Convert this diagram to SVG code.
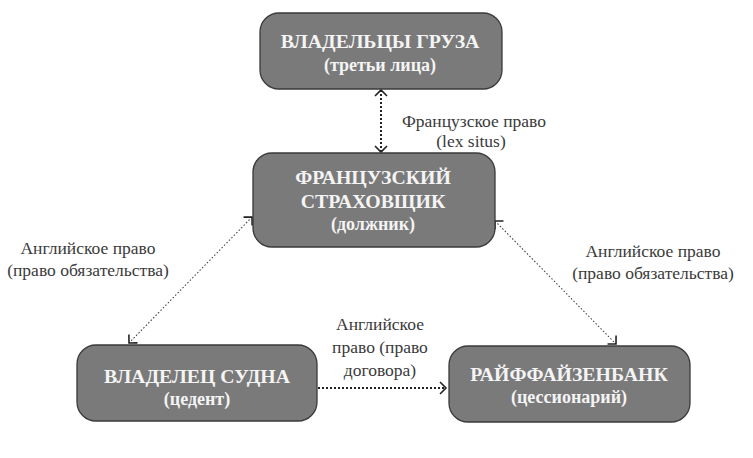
<svg xmlns="http://www.w3.org/2000/svg" width="753" height="458" viewBox="0 0 753 458">
<style>
.box{fill:#7a7a7a;stroke:#3a3a3a;stroke-width:1.3}
.t{font-family:"Liberation Serif","DejaVu Serif",serif;font-weight:bold;fill:#f4f4f4;text-anchor:middle}
.t1{font-size:19.8px}
.t2{font-size:18px}
.lbl{font-family:"Liberation Serif","DejaVu Serif",serif;font-size:17.5px;fill:#3a3a3a;text-anchor:middle}
.thick{fill:none;stroke:#222;stroke-width:2;stroke-dasharray:2 2}
.thin{fill:none;stroke:#444;stroke-width:1.1;stroke-dasharray:1.5 2}
</style>
<defs>
<marker id="ah" markerUnits="userSpaceOnUse" markerWidth="20" markerHeight="20" viewBox="-10 -10 20 20" refX="0" refY="0" orient="auto-start-reverse">
<path d="M-6,-6 L0,0 L-6,6" fill="none" stroke="#222" stroke-width="1.6"/>
</marker>
</defs>
<rect width="753" height="458" fill="#ffffff"/>
<g id="connectors">
<line class="thick" x1="381" y1="90" x2="381" y2="152" marker-start="url(#ah)" marker-end="url(#ah)"/>
<line class="thin" x1="252" y1="217" x2="129" y2="343" marker-start="url(#ah)" marker-end="url(#ah)"/>
<line class="thin" x1="495" y1="221" x2="616" y2="344" marker-start="url(#ah)" marker-end="url(#ah)"/>
<line class="thick" x1="318" y1="388" x2="446" y2="388" marker-end="url(#ah)"/>
</g>
<g id="labels">
<text class="lbl" x="474" y="127">Французское право</text>
<text class="lbl" x="471" y="147">(lex situs)</text>
<text class="lbl" x="88" y="254">Английское право</text>
<text class="lbl" x="88" y="276">(право обязательства)</text>
<text class="lbl" x="653" y="257">Английское право</text>
<text class="lbl" x="653" y="279">(право обязательства)</text>
<text class="lbl" x="380" y="330">Английское</text>
<text class="lbl" x="380" y="353">право (право</text>
<text class="lbl" x="380" y="376">договора)</text>
</g>
<g id="node-cargo">
<rect class="box" x="260" y="13" width="242" height="76" rx="19"/>
<text class="t t1" x="380" y="48">ВЛАДЕЛЬЦЫ ГРУЗА</text>
<text class="t t2" x="380" y="71">(третьи лица)</text>
</g>
<g id="node-insurer">
<rect class="box" x="253" y="153" width="242" height="94" rx="19"/>
<text class="t t1" x="373" y="184">ФРАНЦУЗСКИЙ</text>
<text class="t t1" x="373" y="208">СТРАХОВЩИК</text>
<text class="t t2" x="373" y="230">(должник)</text>
</g>
<g id="node-shipowner">
<rect class="box" x="77" y="345" width="240" height="76" rx="19"/>
<text class="t t1" x="197" y="383">ВЛАДЕЛЕЦ СУДНА</text>
<text class="t t2" x="197" y="405">(цедент)</text>
</g>
<g id="node-bank">
<rect class="box" x="449" y="346" width="241" height="76" rx="19"/>
<text class="t t1" x="569" y="381">РАЙФФАЙЗЕНБАНК</text>
<text class="t t2" x="569" y="403">(цессионарий)</text>
</g>
</svg>
